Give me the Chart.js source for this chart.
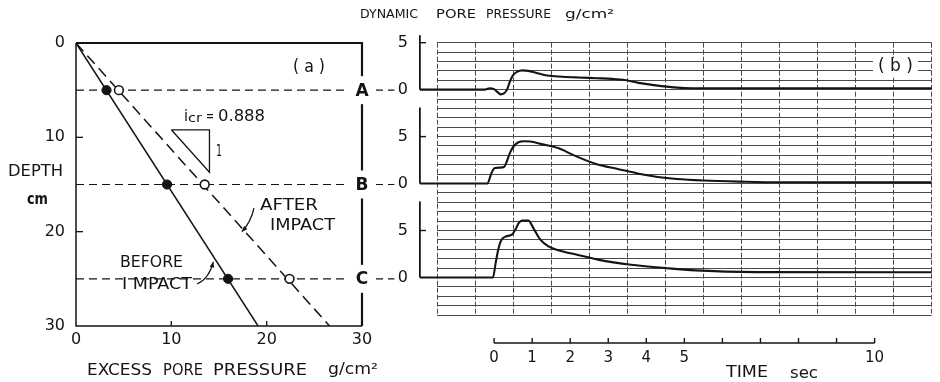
<!DOCTYPE html>
<html>
<head>
<meta charset="utf-8">
<title>Excess and dynamic pore pressure</title>
<script src="https://cdn.jsdelivr.net/npm/chart.js@4.4.1/dist/chart.umd.min.js"></script>
<style>
  html, body { margin: 0; padding: 0; background: #fff; }
  #wrap { position: relative; width: 940px; height: 382px; }
  #wrap canvas { position: absolute; left: 0; top: 0; }
</style>
</head>
<body>
<div id="wrap">
  <canvas id="depth-chart" width="940" height="382"></canvas>
  <canvas id="time-chart" width="940" height="382"></canvas>
</div>
<script>
// ---- (a) excess pore pressure against depth ----
const gaugeNames = ['A', 'B', 'C'];
const gaugeDepths = [5, 15, 25];
const beforeImpact = [3.2, 9.55, 15.95];   // filled circles
const afterImpact = [4.5, 13.5, 22.4];     // open circles
const lineDepths = [0, 30];
const beforeLine = [0, 19.1];
const afterLine = [0, 26.6];
const slopeExcess = [10, 14, 14, 10];
const slopeDepth = [9.2, 9.2, 13.7, 9.2];
const guideExcess = [0, 33.4];
const depthTicks = [0, 10, 20, 30];
const excessTicks = [0, 10, 20, 30];

// ---- (b) dynamic pore pressure records, g/cm2 against sec ----
const recordStart = -1.95;
const timeA = [-1.95, -0.25, -0.12, 0.0, 0.1, 0.18, 0.26, 0.34, 0.42, 0.5, 0.6, 0.75, 0.9, 1.1, 1.4, 1.8, 2.2, 2.7, 3.1, 3.4, 3.8, 4.2, 4.6, 5.0, 5.5, 11.5];
const presA = [0, 0, 0.15, 0.05, -0.3, -0.5, -0.4, 0, 0.9, 1.55, 1.9, 2.05, 2.0, 1.8, 1.5, 1.38, 1.3, 1.22, 1.15, 1.05, 0.72, 0.48, 0.3, 0.18, 0.15, 0.15];
const timeB = [-1.95, -0.18, -0.06, 0.02, 0.15, 0.26, 0.33, 0.42, 0.52, 0.64, 0.8, 0.95, 1.25, 1.7, 2.1, 2.7, 3.25, 3.8, 4.3, 4.8, 5.5, 6.5, 7.5, 11.5];
const presB = [0, 0, 1.2, 1.65, 1.7, 1.75, 2.3, 3.3, 4.0, 4.4, 4.5, 4.48, 4.2, 3.75, 3.0, 2.05, 1.55, 1.05, 0.7, 0.48, 0.32, 0.2, 0.13, 0.12];
const timeC = [-1.95, -0.03, 0.04, 0.1, 0.18, 0.3, 0.47, 0.56, 0.65, 0.73, 0.9, 1.04, 1.21, 1.43, 1.69, 2.2, 2.73, 3.6, 4.5, 5.3, 6.9, 11.5];
const presC = [0, 0, 1.5, 2.8, 3.9, 4.35, 4.55, 5.1, 5.8, 6.05, 6.05, 5.2, 4.05, 3.3, 2.9, 2.4, 1.9, 1.35, 1.0, 0.75, 0.57, 0.55];
const arrowTips = [5.8, 8.1, 8.1];
const pressureTicks = [0, 5];
const timeTicks = [0, 1, 2, 3, 4, 5, 6, 7, 8, 9, 10];
const timeLabels = ['0', '1', '2', '3', '4', '5', '', '', '', '', '10'];
const paperTimes = [-1.5, -0.5, 0.5, 1.5, 2.5, 3.5, 4.5, 5.5, 6.5, 7.5, 8.5, 9.5, 10.5, 11.5];
const paperLevels = [-5, -4, -3, -2, -1, 0, 1, 2, 3, 4, 5];

const ink = '#141414';
const gridInk = '#4a4a4a';
const face = '"DejaVu Sans", "Liberation Sans", sans-serif';

Chart.defaults.font.family = face;
Chart.defaults.color = ink;
Chart.defaults.animation = false;

const pts = (xs, ys) => xs.map((v, i) => ({ x: v, y: ys[i] }));

// draw a word squeezed or stretched to the width it has in the original
function fitText(ctx, text, left, midY, width, font) {
    ctx.save();
    ctx.font = font;
    ctx.textAlign = 'left';
    ctx.textBaseline = 'middle';
    const natural = ctx.measureText(text).width;
    ctx.translate(left, midY);
    ctx.scale(width / natural, 1);
    ctx.fillText(text, 0, 0);
    ctx.restore();
}

function leader(ctx, x0, y0, cx, cy, x1, y1) {
    ctx.beginPath();
    ctx.moveTo(x0, y0);
    ctx.quadraticCurveTo(cx, cy, x1, y1);
    ctx.stroke();
    const ang = Math.atan2(y1 - cy, x1 - cx);
    ctx.beginPath();
    ctx.moveTo(x1, y1);
    ctx.lineTo(x1 - 6 * Math.cos(ang - 0.4), y1 - 6 * Math.sin(ang - 0.4));
    ctx.lineTo(x1 - 6 * Math.cos(ang + 0.4), y1 - 6 * Math.sin(ang + 0.4));
    ctx.closePath();
    ctx.fill();
}

const depthPanelDecor = {
    id: 'depthPanelDecor',
    afterDatasetsDraw(chart) {
        const { ctx, chartArea: area, scales: { x, y } } = chart;
        ctx.save();
        ctx.strokeStyle = ink;
        ctx.fillStyle = ink;

        // frame, top and right edges heavier as in the print
        ctx.lineWidth = 1.5;
        ctx.beginPath();
        ctx.moveTo(area.left, area.top);
        ctx.lineTo(area.left, area.bottom);
        ctx.lineTo(area.right, area.bottom);
        ctx.stroke();
        ctx.lineWidth = 2.2;
        ctx.beginPath();
        ctx.moveTo(area.left, area.top);
        ctx.lineTo(area.right, area.top);
        ctx.lineTo(area.right, area.bottom);
        ctx.stroke();

        // tick marks point inwards
        ctx.lineWidth = 1.3;
        [10, 20].forEach(v => {
            const py = y.getPixelForValue(v);
            ctx.beginPath(); ctx.moveTo(area.left, py); ctx.lineTo(area.left + 7, py); ctx.stroke();
            const px = x.getPixelForValue(v);
            ctx.beginPath(); ctx.moveTo(px, area.bottom); ctx.lineTo(px, area.bottom - 5); ctx.stroke();
        });

        // gauge letters sit in a gap of the right edge
        gaugeDepths.forEach((d, i) => {
            const py = y.getPixelForValue(d);
            const px = x.getPixelForValue(30);
            ctx.fillStyle = '#fff';
            ctx.fillRect(px - 13, py - 14, 27, 28);
            ctx.fillStyle = ink;
            ctx.font = 'bold 17px ' + face;
            ctx.textAlign = 'center';
            ctx.textBaseline = 'middle';
            ctx.fillText(gaugeNames[i], px, py + 1);
        });

        // leaders to the two lines
        ctx.lineWidth = 1.2;
        const aEnd = { x: x.getPixelForValue(17.4), y: y.getPixelForValue(20) };
        leader(ctx, 254, 208, 251, 222, aEnd.x, aEnd.y);
        const bEnd = { x: x.getPixelForValue(14.4), y: y.getPixelForValue(23.2) };
        leader(ctx, 197, 284, 209, 279, bEnd.x, bEnd.y);

        // texts
        const f16 = '16px ' + face;
        fitText(ctx, 'DEPTH', 8, 172, 55, f16);
        fitText(ctx, 'cm', 27, 200, 21, 'bold 15px ' + face);
        fitText(ctx, 'EXCESS', 87, 371, 65, f16);
        fitText(ctx, 'PORE', 163, 371, 40, f16);
        fitText(ctx, 'PRESSURE', 213, 371, 94, f16);
        fitText(ctx, 'g/cm²', 328, 370, 50, f16);
        fitText(ctx, '( a )', 293, 68, 32, '17px ' + face);
        fitText(ctx, 'i', 184, 117, 4, f16);
        fitText(ctx, 'cr', 188, 119, 14, '13px ' + face);
        fitText(ctx, '=', 206, 117, 8, '15px ' + face);
        fitText(ctx, '0.888', 218, 117, 47, '16px ' + face);
        fitText(ctx, '1', 216, 152, 6, '15px ' + face);
        fitText(ctx, 'AFTER', 260, 206, 58, f16);
        fitText(ctx, 'IMPACT', 270, 226, 65, f16);
        fitText(ctx, 'BEFORE', 120, 263, 63, f16);
        fitText(ctx, 'I MPACT', 122, 285, 70, f16);
        ctx.restore();
    },
};

new Chart(document.getElementById('depth-chart'), {
    type: 'line',
    data: {
        datasets: [
            {
                label: 'before impact, gauges',
                data: pts(beforeImpact, gaugeDepths),
                showLine: false,
                pointRadius: 4.6,
                pointBackgroundColor: ink,
                pointBorderColor: ink,
                order: 0,
            },
            {
                label: 'after impact, gauges',
                data: pts(afterImpact, gaugeDepths),
                showLine: false,
                pointRadius: 4.4,
                pointBackgroundColor: '#fff',
                pointBorderColor: ink,
                pointBorderWidth: 1.6,
                order: 0,
            },
            {
                label: 'before impact',
                data: pts(beforeLine, lineDepths),
                borderColor: ink,
                borderWidth: 1.5,
                pointRadius: 0,
                order: 1,
            },
            {
                label: 'after impact',
                data: pts(afterLine, lineDepths),
                borderColor: ink,
                borderWidth: 1.5,
                borderDash: [11, 6],
                pointRadius: 0,
                order: 1,
            },
            {
                label: 'icr slope',
                data: pts(slopeExcess, slopeDepth),
                borderColor: ink,
                borderWidth: 1.3,
                pointRadius: 0,
                order: 1,
            },
            ...gaugeDepths.map((d, i) => ({
                label: 'gauge ' + gaugeNames[i],
                data: pts(guideExcess, [d, d]),
                borderColor: ink,
                borderWidth: 1.1,
                borderDash: [8, 5],
                pointRadius: 0,
                clip: false,
                order: 2,
            })),
        ],
    },
    options: {
        responsive: false,
        events: [],
        layout: { padding: { left: 0, top: 43, right: 578, bottom: 0 } },
        plugins: { legend: { display: false }, tooltip: { enabled: false } },
        scales: {
            x: {
                type: 'linear',
                min: 0,
                max: 30,
                afterBuildTicks: s => { s.ticks = excessTicks.map(v => ({ value: v })); },
                ticks: { padding: 4, font: { size: 16 }, color: ink, maxRotation: 0 },
                grid: { display: false, drawTicks: false },
                border: { display: false },
                afterFit: s => { s.height = 56; },
            },
            y: {
                type: 'linear',
                reverse: true,
                min: 0,
                max: 30,
                afterBuildTicks: s => { s.ticks = depthTicks.map(v => ({ value: v })); },
                ticks: { padding: 11, font: { size: 16 }, color: ink },
                grid: { display: false, drawTicks: false },
                border: { display: false },
                afterFit: s => { s.width = 76; },
            },
        },
    },
    plugins: [depthPanelDecor],
});

const timePanelDecor = {
    id: 'timePanelDecor',
    afterDatasetsDraw(chart) {
        const { ctx, chartArea: area, scales: { x } } = chart;
        ctx.save();
        ctx.strokeStyle = ink;
        ctx.fillStyle = '#fff';
        ctx.fillRect(873, 58, 45, 19);
        ctx.fillStyle = ink;
        fitText(ctx, '( b )', 878, 67, 35, '17px ' + face);

        // time scale bar under the record
        const barY = area.bottom + 28;
        ctx.lineWidth = 1.4;
        ctx.beginPath();
        ctx.moveTo(x.getPixelForValue(timeTicks[0]), barY);
        ctx.lineTo(x.getPixelForValue(timeTicks[timeTicks.length - 1]), barY);
        ctx.stroke();
        timeTicks.forEach(t => {
            const px = x.getPixelForValue(t);
            ctx.beginPath(); ctx.moveTo(px, barY); ctx.lineTo(px, barY - 5); ctx.stroke();
        });

        const f13 = '13px ' + face;
        fitText(ctx, 'DYNAMIC', 360, 15, 58, f13);
        fitText(ctx, 'PORE', 436, 15, 40, f13);
        fitText(ctx, 'PRESSURE', 486, 15, 65, f13);
        fitText(ctx, 'g/cm²', 565, 15, 49, f13);
        fitText(ctx, 'TIME', 726, 373, 42, '16px ' + face);
        fitText(ctx, 'sec', 790, 374, 28, '16px ' + face);
        ctx.restore();
    },
};

const trace = (xs, ys, axis) => ({
    data: pts(xs, ys),
    yAxisID: axis,
    borderColor: ink,
    borderWidth: 2.1,
    pointRadius: 0,
    cubicInterpolationMode: 'monotone',
    borderJoinStyle: 'round',
    clip: false,
});
const arrow = (axis, tip) => ({
    data: pts([recordStart, recordStart], [0, tip]),
    yAxisID: axis,
    borderColor: ink,
    borderWidth: 1.8,
    pointRadius: [0, 6.5],
    pointStyle: 'triangle',
    pointBackgroundColor: ink,
    pointBorderColor: ink,
    clip: false,
});
const tickFive = axis => ({
    data: pts([recordStart, recordStart + 0.16], [5, 5]),
    yAxisID: axis,
    borderColor: ink,
    borderWidth: 1.4,
    pointRadius: 0,
    clip: false,
});
// one band of chart paper per gauge, stacked top to bottom
const pressureAxis = (min, max, weight) => ({
    type: 'linear',
    position: 'left',
    stack: 'records',
    stackWeight: max - min,
    weight,
    min,
    max,
    afterBuildTicks: s => { s.ticks = paperLevels.filter(v => v >= min && v <= max).map(v => ({ value: v })); },
    ticks: { autoSkip: false, padding: 29, font: { size: 16 }, color: ink,
        callback: v => (pressureTicks.includes(v) ? String(v) : '') },
    grid: { color: gridInk, lineWidth: 1, drawTicks: false },
    border: { display: false },
    afterFit: s => { s.width = 57; },
});

new Chart(document.getElementById('time-chart'), {
    type: 'line',
    data: {
        datasets: [
            trace(timeA, presA, 'yA'),
            trace(timeB, presB, 'yB'),
            trace(timeC, presC, 'yC'),
            arrow('yA', arrowTips[0]),
            arrow('yB', arrowTips[1]),
            arrow('yC', arrowTips[2]),
            tickFive('yA'),
            tickFive('yB'),
            tickFive('yC'),
        ],
    },
    options: {
        responsive: false,
        events: [],
        layout: { padding: { left: 380, top: 42.7, right: 2, bottom: 0 } },
        plugins: { legend: { display: false }, tooltip: { enabled: false } },
        scales: {
            x: {
                type: 'linear',
                position: 'bottom',
                min: -1.5,
                max: 11.5,
                afterBuildTicks: s => { s.ticks = timeTicks.map(v => ({ value: v })); },
                ticks: { autoSkip: false, maxRotation: 0, padding: 34, font: { size: 15 }, color: ink,
                    callback: (v, i) => timeLabels[i] },
                grid: { display: false, drawTicks: false },
                border: { display: false },
                afterFit: s => { s.height = 67; },
            },
            xg: {
                type: 'linear',
                position: 'bottom',
                min: -1.5,
                max: 11.5,
                afterBuildTicks: s => { s.ticks = paperTimes.map(v => ({ value: v })); },
                ticks: { display: false },
                grid: { color: gridInk, lineWidth: 1, drawTicks: false },
                border: { display: false, dash: [5, 2] },
                afterFit: s => { s.height = 0; },
            },
            yA: pressureAxis(-5, 5, 3),
            yB: pressureAxis(-5, 5, 2),
            yC: pressureAxis(-4, 5, 1),
        },
    },
    plugins: [timePanelDecor],
});
</script>
</body>
</html>
